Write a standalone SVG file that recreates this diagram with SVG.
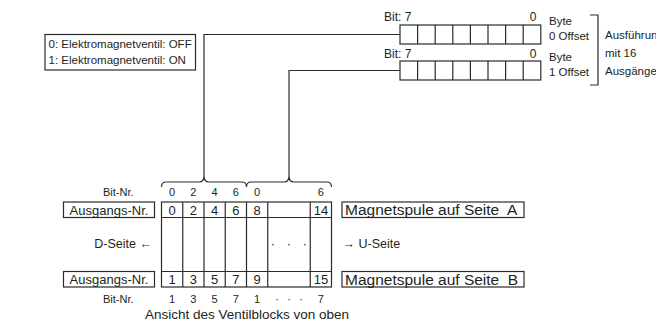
<svg xmlns="http://www.w3.org/2000/svg" width="656" height="322" viewBox="0 0 656 322">
  <style>
    text { font-family: "Liberation Sans", Arial, sans-serif; fill: #231f20; }
    .s11 { font-size: 11px; }
    .s115 { font-size: 11.5px; }
    .s12 { font-size: 12px; }
    .s125 { font-size: 12.5px; }
    .s13 { font-size: 13px; }
    .s15 { font-size: 15.5px; white-space: pre; }
    .mid { text-anchor: middle; }
    .end { text-anchor: end; }
    .box { fill: #fff; stroke: #2b2b2b; stroke-width: 1.2; }
    .ln { fill: none; stroke: #2b2b2b; stroke-width: 1.2; }
  </style>

  <!-- legend -->
  <g id="legend">
    <rect class="box" x="45" y="34.5" width="150.5" height="35.5"/>
    <text class="s115" x="48.5" y="48">0: Elektromagnetventil: OFF</text>
    <text class="s115" x="48.5" y="64">1: Elektromagnetventil: ON</text>
  </g>

  <!-- output byte 0 -->
  <g id="byte0">
    <text class="s12" x="384" y="21">Bit: 7</text>
    <text class="s12 mid" x="533" y="21">0</text>
    <rect class="box" x="400" y="25" width="140.8" height="19"/>
    <path class="ln" d="M417.6,25v19M435.2,25v19M452.8,25v19M470.4,25v19M488,25v19M505.6,25v19M523.2,25v19"/>
    <text class="s115" x="549" y="24.5">Byte</text>
    <text class="s115" x="549" y="40">0 Offset</text>
  </g>

  <!-- output byte 1 -->
  <g id="byte1">
    <text class="s12" x="384" y="57.5">Bit: 7</text>
    <text class="s12 mid" x="533" y="57.5">0</text>
    <rect class="box" x="400" y="61" width="140.8" height="19"/>
    <path class="ln" d="M417.6,61v19M435.2,61v19M452.8,61v19M470.4,61v19M488,61v19M505.6,61v19M523.2,61v19"/>
    <text class="s115" x="549" y="60.5">Byte</text>
    <text class="s115" x="549" y="76">1 Offset</text>
  </g>

  <!-- version note with bracket -->
  <g id="version">
    <path class="ln" d="M590,15H598V85H590"/>
    <text class="s115" x="605" y="38.5">Ausführung</text>
    <text class="s115" x="605" y="56.5">mit 16</text>
    <text class="s115" x="605" y="74.5">Ausgängen</text>
  </g>

  <!-- connectors from bytes to valve block -->
  <g id="connectors">
    <path class="ln" d="M400,34.5H204V176"/>
    <path class="ln" d="M400,70.5H289V176"/>
    <path class="ln" d="M161.5,187Q161.5,182 166,182H199Q204,182 204,176Q204,182 209,182H242Q246.5,182 246.5,187"/>
    <path class="ln" d="M246.5,187Q246.5,182 251,182H284Q289,182 289,176Q289,182 294,182H327Q331.5,182 331.5,187"/>
  </g>

  <!-- bit numbers, top -->
  <g id="bits-top">
    <text class="s11" x="103" y="196">Bit-Nr.</text>
    <text class="s11 mid" x="172.1" y="196">0</text>
    <text class="s11 mid" x="193.4" y="196">2</text>
    <text class="s11 mid" x="214.6" y="196">4</text>
    <text class="s11 mid" x="235.9" y="196">6</text>
    <text class="s11 mid" x="257.1" y="196">0</text>
    <text class="s11 mid" x="320.9" y="196">6</text>
  </g>

  <!-- valve block grid -->
  <g id="valve-block">
    <rect class="box" x="161.5" y="202" width="170" height="85"/>
    <path class="ln" d="M161.5,217.5H331.5M161.5,271.5H331.5"/>
    <path class="ln" d="M182.75,202V287M204,202V287M225.25,202V287M246.5,202V287M267.75,202V287M310.25,202V287"/>
    <text class="s13 mid" x="172.1" y="214.5">0</text>
    <text class="s13 mid" x="193.4" y="214.5">2</text>
    <text class="s13 mid" x="214.6" y="214.5">4</text>
    <text class="s13 mid" x="235.9" y="214.5">6</text>
    <text class="s13 mid" x="257.1" y="214.5">8</text>
    <text class="s13 mid" x="320.9" y="214.5">14</text>
    <text class="s13 mid" x="273 289 305" y="248">···</text>
    <text class="s13 mid" x="172.1" y="284">1</text>
    <text class="s13 mid" x="193.4" y="284">3</text>
    <text class="s13 mid" x="214.6" y="284">5</text>
    <text class="s13 mid" x="235.9" y="284">7</text>
    <text class="s13 mid" x="257.1" y="284">9</text>
    <text class="s13 mid" x="320.9" y="284">15</text>
  </g>

  <!-- row labels -->
  <g id="output-a">
    <rect class="box" x="63.5" y="202" width="91" height="15.5"/>
    <text class="s13 mid" x="109" y="214.5">Ausgangs-Nr.</text>
  </g>
  <g id="output-b">
    <rect class="box" x="63.5" y="271.5" width="91" height="15.5"/>
    <text class="s13 mid" x="109" y="284">Ausgangs-Nr.</text>
  </g>
  <g id="coil-a">
    <rect class="box" x="342" y="202" width="182" height="15.5"/>
    <text class="s15" x="345" y="215">Magnetspule auf Seite  A</text>
  </g>
  <g id="coil-b">
    <rect class="box" x="342" y="271.5" width="182" height="15.5"/>
    <text class="s15" x="345" y="284.5">Magnetspule auf Seite  B</text>
  </g>

  <!-- sides -->
  <g id="sides">
    <text class="s125 end" x="152" y="248">D-Seite ←</text>
    <text class="s125" x="342.5" y="248">→ U-Seite</text>
  </g>

  <!-- bit numbers, bottom -->
  <g id="bits-bottom">
    <text class="s11" x="103" y="303">Bit-Nr.</text>
    <text class="s11 mid" x="172.1" y="303">1</text>
    <text class="s11 mid" x="193.4" y="303">3</text>
    <text class="s11 mid" x="214.6" y="303">5</text>
    <text class="s11 mid" x="235.9" y="303">7</text>
    <text class="s11 mid" x="257.1" y="303">1</text>
    <text class="s11 mid" x="277 289 301" y="303">···</text>
    <text class="s11 mid" x="320.9" y="303">7</text>
  </g>

  <text id="caption" class="s13 mid" x="247" y="319" style="font-size:13.5px">Ansicht des Ventilblocks von oben</text>
</svg>
